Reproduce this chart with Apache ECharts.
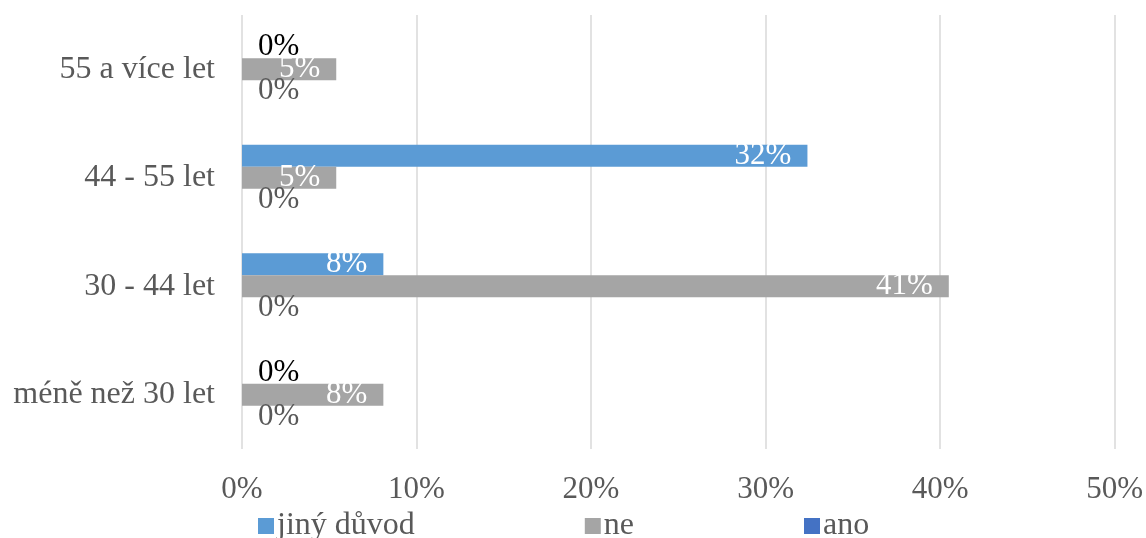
<!DOCTYPE html>
<html>
<head>
<meta charset="utf-8">
<script src="https://cdn.jsdelivr.net/npm/echarts@6/dist/echarts.min.js"></script>
<style>
  html, body { margin: 0; padding: 0; background: #fff; }
  #main { width: 1146px; height: 538px; }
</style>
</head>
<body>
<div id="main"></div>
<script>
// kategorie (zdola nahoru)
var categories = ['méně než 30 let', '30 - 44 let', '44 - 55 let', '55 a více let'];
// hodnoty v %
var jinyDuvod = [0, 8.1, 32.4, 0];
var ne = [8.1, 40.5, 5.4, 5.4];
var ano = [0, 0, 0, 0];
var xTicks = [0, 10, 20, 30, 40, 50];

var font = 'Liberation Serif';
var myChart = echarts.init(document.getElementById('main'));

function labelled(values, zeroColor) {
    var out = [];
    for (var i = 0; i < values.length; i++) {
        if (values[i] === 0) {
            out.push({
                value: 0,
                label: { position: 'right', distance: 16, color: zeroColor }
            });
        } else {
            out.push(values[i]);
        }
    }
    return out;
}

var baseLabel = {
    show: true,
    position: 'insideRight',
    distance: 16,
    color: '#ffffff',
    fontFamily: font,
    fontSize: 31,
    formatter: function (p) { return Math.round(p.value) + '%'; }
};

myChart.setOption({
    animation: false,
    textStyle: { fontFamily: font },
    grid: { left: 242, right: 31, top: 15, bottom: 89, containLabel: false },
    legend: {
        data: ['jiný důvod', 'ne', 'ano'],
        left: 253,
        top: 505,
        itemWidth: 16,
        itemHeight: 16,
        itemGap: 170,
        icon: 'rect',
        textStyle: { color: '#595959', fontSize: 32, fontFamily: font, padding: [0, 0, 0, -2] }
    },
    xAxis: {
        type: 'value',
        min: 0,
        max: 50,
        interval: 10,
        axisLine: { show: false },
        axisTick: { show: false },
        splitLine: { lineStyle: { color: '#d9d9d9', width: 1.5 } },
        axisLabel: {
            color: '#595959',
            fontSize: 31,
            fontFamily: font,
            margin: 25,
            formatter: function (v) { return xTicks.indexOf(v) >= 0 ? v + '%' : ''; }
        }
    },
    yAxis: {
        type: 'category',
        data: categories,
        axisLine: { show: false },
        axisTick: { show: false },
        axisLabel: { color: '#595959', fontSize: 32, fontFamily: font, margin: 27 }
    },
    series: [
        {
            name: 'jiný důvod',
            type: 'bar',
            barGap: '0%',
            barCategoryGap: '39%',
            itemStyle: { color: '#5b9bd5' },
            label: baseLabel,
            data: labelled(jinyDuvod, '#000000')
        },
        {
            name: 'ne',
            type: 'bar',
            itemStyle: { color: '#a5a5a5' },
            label: baseLabel,
            data: labelled(ne, '#404040')
        },
        {
            name: 'ano',
            type: 'bar',
            itemStyle: { color: '#4472c4' },
            label: baseLabel,
            data: labelled(ano, '#595959')
        }
    ]
});
</script>
</body>
</html>
